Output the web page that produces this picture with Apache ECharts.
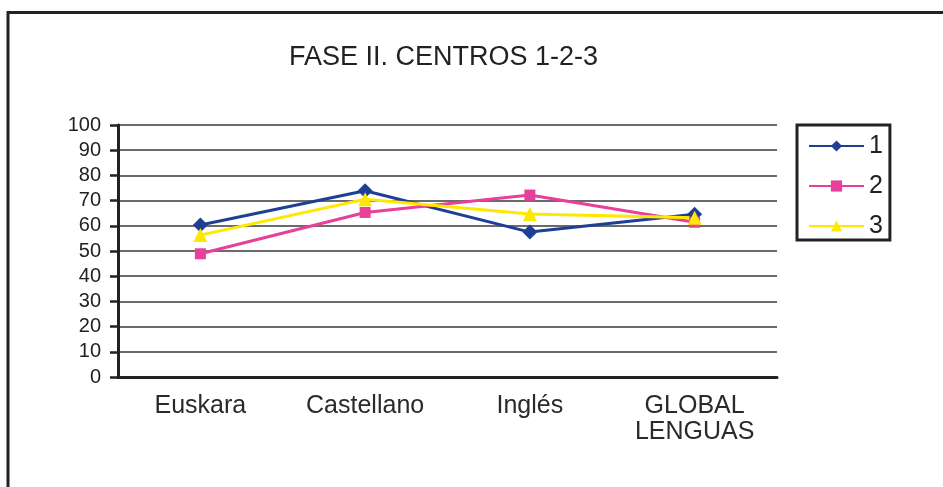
<!DOCTYPE html>
<html>
<head>
  <meta charset="utf-8">
  <title>FASE II. CENTROS 1-2-3</title>
  <script src="https://cdn.jsdelivr.net/npm/echarts/dist/echarts.min.js"></script>
  <style>
    html, body { margin: 0; padding: 0; background: #fff; }
    #chart { width: 943px; height: 487px; }
  </style>
</head>
<body>
  <div id="chart"></div>
  <script>
    // data
    const categories = ['Euskara', 'Castellano', 'Inglés', 'GLOBAL\nLENGUAS'];
    const serie1 = [60.3, 73.9, 57.5, 64.6];
    const serie2 = [48.9, 65.3, 72.2, 61.4];
    const serie3 = [56.3, 70.5, 64.7, 63.2];

    const font = '"Liberation Sans", Arial, sans-serif';
    const chart = echarts.init(document.getElementById('chart'));

    chart.setOption({
      animation: false,
      title: {
        text: 'FASE II. CENTROS 1-2-3',
        left: 284,
        top: 39,
        textStyle: { fontFamily: font, fontSize: 27, fontWeight: 'normal', color: '#222' }
      },
      graphic: [{
        type: 'rect',
        shape: { x: 8, y: 12.5, width: 1000, height: 1000 },
        style: { fill: 'none', stroke: '#222', lineWidth: 3 }
      }],
      legend: {
        orient: 'vertical',
        left: 797,
        top: 125,
        padding: [8, 7, 1, 11],
        itemWidth: 55,
        itemHeight: 14,
        itemGap: 14,
        borderColor: '#222',
        borderWidth: 3,
        textStyle: { fontFamily: font, fontSize: 25, lineHeight: 26, color: '#222' },
        data: ['1', '2', '3']
      },
      grid: { left: 118, right: 166, top: 125, bottom: 110 },
      xAxis: {
        type: 'category',
        data: categories,
        boundaryGap: true,
        axisLine: { lineStyle: { color: '#222', width: 3 } },
        axisTick: { length: 12, interval: 0, lineStyle: { color: '#222', width: 2.5 } },
        axisLabel: {
          interval: 0, margin: 16,
          fontFamily: font, fontSize: 25, lineHeight: 26, color: '#2a2a2a'
        }
      },
      yAxis: {
        type: 'value',
        min: 0, max: 100, interval: 10,
        axisLine: { show: true, lineStyle: { color: '#222', width: 3 } },
        axisTick: { show: true, length: 8, lineStyle: { color: '#222', width: 2.5 } },
        axisLabel: { margin: 17, fontFamily: font, fontSize: 20, color: '#222' },
        splitLine: { lineStyle: { color: '#3a3a3a', width: 1.5 } }
      },
      series: [
        {
          name: '1', type: 'line', data: serie1,
          symbol: 'diamond', symbolSize: 15,
          lineStyle: { color: '#1f3f95', width: 3 },
          itemStyle: { color: '#1f3f95' }
        },
        {
          name: '2', type: 'line', data: serie2,
          symbol: 'rect', symbolSize: 11,
          lineStyle: { color: '#e8409a', width: 3 },
          itemStyle: { color: '#e8409a' }
        },
        {
          name: '3', type: 'line', data: serie3,
          symbol: 'triangle', symbolSize: 14,
          lineStyle: { color: '#ffe800', width: 3 },
          itemStyle: { color: '#ffe800' }
        }
      ]
    });
  </script>
</body>
</html>
